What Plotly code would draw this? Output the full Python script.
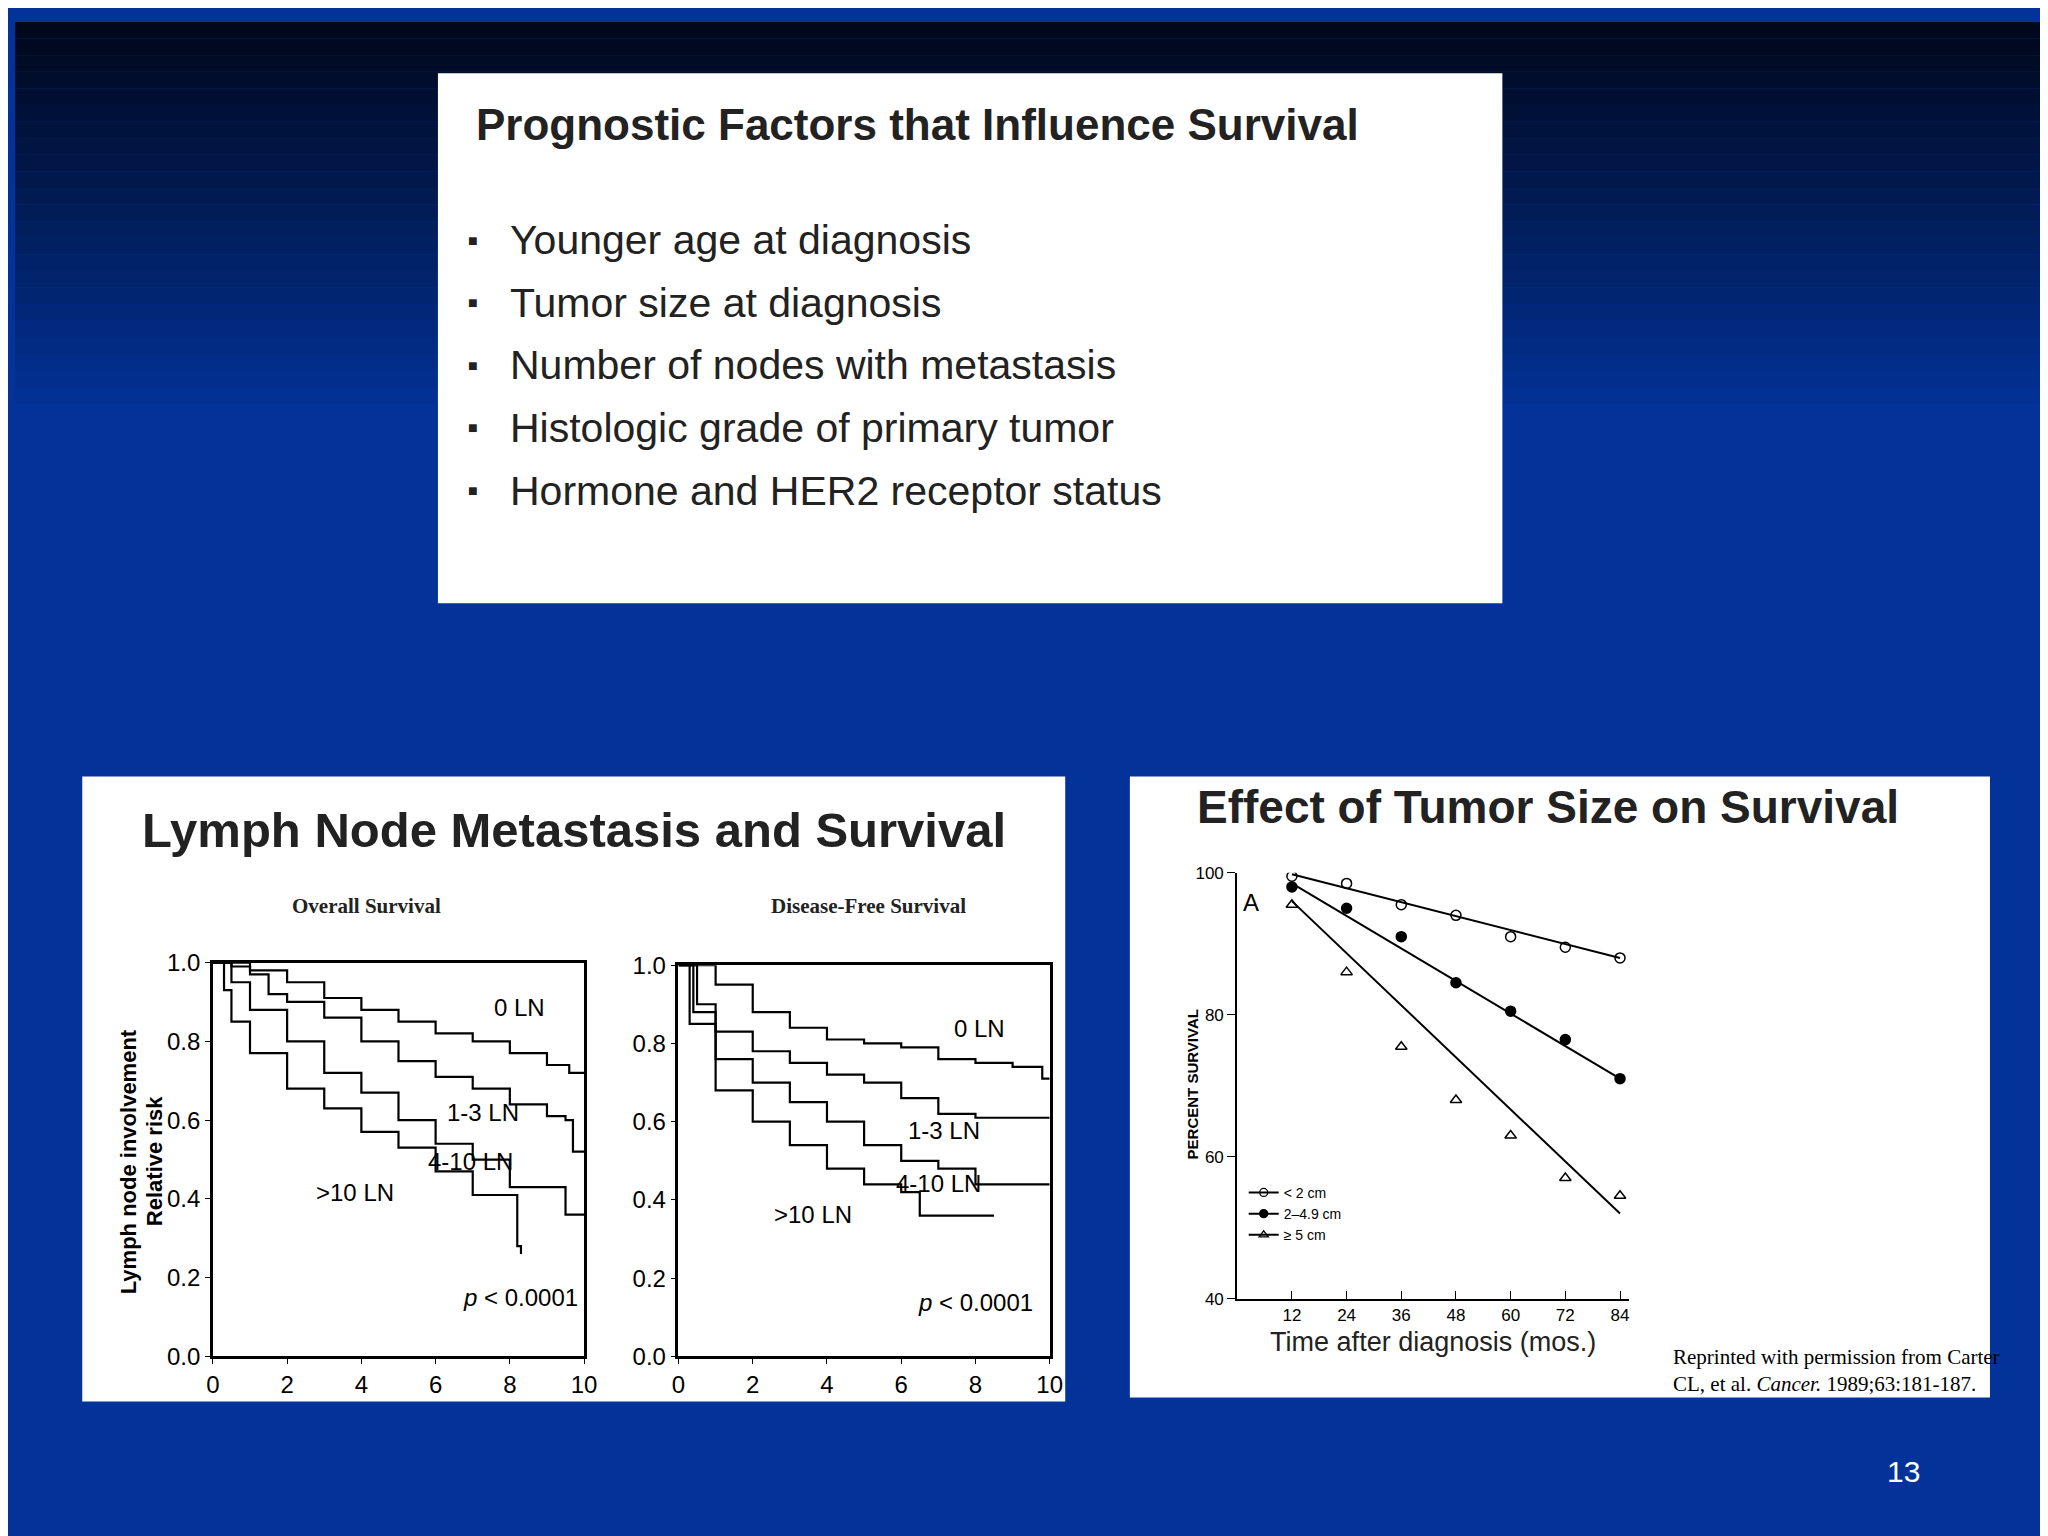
import plotly.graph_objects as go

# ---- data ----
bullets = ["Younger age at diagnosis", "Tumor size at diagnosis",
           "Number of nodes with metastasis", "Histologic grade of primary tumor",
           "Hormone and HER2 receptor status"]

# Kaplan-Meier curves (years, fraction)
os_0ln_x = [0, 0.5, 1, 2, 3, 4, 5, 6, 7, 8, 9, 9.6, 10]
os_0ln_y = [1, 0.99, 0.98, 0.95, 0.91, 0.88, 0.85, 0.82, 0.8, 0.77, 0.74, 0.72, 0.72]
os_13_x = [0, 1, 1.5, 2, 3, 4, 5, 6, 7, 8, 9, 9.5, 9.7, 10]
os_13_y = [1, 0.97, 0.92, 0.9, 0.86, 0.8, 0.75, 0.71, 0.68, 0.64, 0.61, 0.6, 0.52, 0.52]
os_410_x = [0, 0.5, 1, 2, 3, 4, 5, 6, 7, 8, 9, 9.5, 10]
os_410_y = [1, 0.95, 0.88, 0.8, 0.72, 0.67, 0.6, 0.54, 0.5, 0.43, 0.43, 0.36, 0.36]
os_10_x = [0, 0.3, 0.5, 1, 2, 3, 4, 5, 6, 7, 8, 8.2, 8.3]
os_10_y = [1, 0.93, 0.85, 0.77, 0.68, 0.63, 0.57, 0.53, 0.47, 0.41, 0.41, 0.28, 0.26]

dfs_0ln_x = [0, 1, 2, 3, 4, 5, 6, 7, 8, 9, 9.8, 10]
dfs_0ln_y = [1, 0.95, 0.88, 0.84, 0.81, 0.8, 0.79, 0.76, 0.75, 0.74, 0.71, 0.71]
dfs_13_x = [0, 0.5, 1, 2, 3, 4, 5, 6, 7, 8, 10]
dfs_13_y = [1, 0.9, 0.83, 0.78, 0.75, 0.72, 0.7, 0.66, 0.62, 0.61, 0.61]
dfs_410_x = [0, 0.4, 1, 2, 3, 4, 5, 6, 7, 8, 10]
dfs_410_y = [1, 0.88, 0.76, 0.7, 0.65, 0.6, 0.54, 0.5, 0.48, 0.44, 0.44]
dfs_10_x = [0, 0.3, 1, 2, 3, 4, 5, 6, 6.5, 8.5]
dfs_10_y = [1, 0.85, 0.68, 0.6, 0.54, 0.48, 0.44, 0.42, 0.36, 0.36]

# tumour size: percent survival by month
months = [12, 24, 36, 48, 60, 72, 84]
small_pts = [99.5, 98.5, 95.5, 94, 91, 89.5, 88]
mid_pts = [98, 95, 91, 84.5, 80.5, 76.5, 71]
large_pts = [95.5, 86, 75.5, 68, 63, 57, 54.5]
fit_x = [12, 84]
small_fit = [99.8, 88]
mid_fit = [98.5, 71]
large_fit = [96, 52]

W, H = 2048, 1536
def X(px): return px / 1568
def Y(py): return 1 - py / 1176

fig = go.Figure()

# background gradient
shapes = [dict(type="rect", xref="paper", yref="paper", x0=0, x1=1, y0=0, y1=1,
               fillcolor="#033399", line_width=0, layer="below")]
n = 24
for i in range(n):
    t = i / (n - 1)
    r, g, b = int(0 + 3 * t), int(8 + 43 * t), int(28 + 125 * t)
    shapes.append(dict(type="rect", xref="paper", yref="paper", x0=0, x1=1,
                       y0=1 - (i + 1) * 0.011, y1=1 - i * 0.011,
                       fillcolor=f"rgb({r},{g},{b})", line_width=0, layer="below"))
for x0, y0, x1, y1 in [(327, 40, 1150, 453), (52, 588, 812, 1075), (862, 588, 1527, 1072)]:
    shapes.append(dict(type="rect", xref="paper", yref="paper", x0=X(x0), x1=X(x1),
                       y0=Y(y1), y1=Y(y0), fillcolor="white", line_width=0, layer="below"))

blk = dict(color="black", width=2.2)
for xs, ys in [(os_0ln_x, os_0ln_y), (os_13_x, os_13_y), (os_410_x, os_410_y), (os_10_x, os_10_y)]:
    fig.add_trace(go.Scatter(x=xs, y=ys, mode="lines", line=blk, line_shape="hv",
                             xaxis="x", yaxis="y", showlegend=False))
for xs, ys in [(dfs_0ln_x, dfs_0ln_y), (dfs_13_x, dfs_13_y), (dfs_410_x, dfs_410_y), (dfs_10_x, dfs_10_y)]:
    fig.add_trace(go.Scatter(x=xs, y=ys, mode="lines", line=blk, line_shape="hv",
                             xaxis="x2", yaxis="y2", showlegend=False))

# tumour size chart
for fy in [small_fit, mid_fit, large_fit]:
    fig.add_trace(go.Scatter(x=fit_x, y=fy, mode="lines", line=dict(color="black", width=2),
                             xaxis="x3", yaxis="y3", showlegend=False))
styles = [("circle-open", small_pts, "< 2 cm"), ("circle", mid_pts, "2–4.9 cm"),
          ("triangle-up-open", large_pts, "≥ 5 cm")]
for sym, pts, name in styles:
    fig.add_trace(go.Scatter(x=months, y=pts, mode="markers",
                             marker=dict(symbol=sym, size=10, color="black", line=dict(width=1.5, color="black")),
                             xaxis="x3", yaxis="y3", showlegend=False))
    fig.add_trace(go.Scatter(x=[None], y=[None], mode="lines+markers", name=name,
                             marker=dict(symbol=sym, size=8, color="black", line=dict(width=1.3, color="black")),
                             line=dict(color="black", width=2), xaxis="x3", yaxis="y3"))

narrow = "Liberation Sans Narrow, Arial Narrow, Liberation Sans"
km_ax = dict(range=[0, 10], tickvals=[0, 2, 4, 6, 8, 10], showline=True, mirror=True,
             linecolor="black", linewidth=2.5, ticks="outside", ticklen=5, tickcolor="black",
             showgrid=False, zeroline=False, tickfont=dict(family=narrow, size=24, color="black"))
km_ay = dict(range=[0, 1], tickvals=[0, 0.2, 0.4, 0.6, 0.8, 1.0], tickformat=".1f",
             showline=True, mirror=True, linecolor="black", linewidth=2.5, ticks="outside",
             ticklen=5, tickcolor="black", showgrid=False, zeroline=False,
             tickfont=dict(family=narrow, size=24, color="black"))

fig.update_layout(
    width=W, height=H, margin=dict(l=0, r=0, t=0, b=0),
    paper_bgcolor="#033399", plot_bgcolor="rgba(0,0,0,0)", shapes=shapes,
    xaxis=dict(km_ax, domain=[X(153), X(440)], anchor="y"),
    yaxis=dict(km_ay, domain=[Y(1040), Y(733)], anchor="x"),
    xaxis2=dict(km_ax, domain=[X(513), X(800)], anchor="y2"),
    yaxis2=dict(km_ay, domain=[Y(1040), Y(735)], anchor="x2"),
    xaxis3=dict(domain=[X(945), X(1248)], range=[0, 86], anchor="y3", tickvals=months,
                showline=True, linecolor="black", linewidth=2, ticks="inside", ticklen=8,
                tickcolor="black", showgrid=False, zeroline=False,
                tickfont=dict(family=narrow, size=17, color="black"),
                title=dict(text="Time after diagnosis (mos.)", standoff=8,
                           font=dict(family=narrow, size=27, color="#222"))),
    yaxis3=dict(domain=[Y(995), Y(663)], range=[40, 100], anchor="x3", tickvals=[40, 60, 80, 100],
                showline=True, linecolor="black", linewidth=2, ticks="outside", ticklen=8,
                tickcolor="black", showgrid=False, zeroline=False,
                tickfont=dict(family=narrow, size=17, color="black")),
    legend=dict(x=X(950), y=Y(900), xanchor="left", yanchor="top", bgcolor="rgba(0,0,0,0)",
                font=dict(family="Liberation Sans", size=14, color="black"), tracegroupgap=0,
                itemwidth=30),
)

ann = []
def A(text, x, y, size, family="Liberation Sans", color="#222", xanchor="left", **kw):
    ann.append(dict(text=text, x=x, y=y, xref=kw.pop("xref", "paper"), yref=kw.pop("yref", "paper"),
                    xanchor=xanchor, yanchor=kw.pop("yanchor", "middle"), showarrow=False,
                    font=dict(family=family, size=size, color=color), **kw))

A("<b>Prognostic Factors that Influence Survival</b>", X(355), Y(80), 44, color="#222")
for i, b in enumerate(bullets):
    yy = Y(170 + i * 48.8)
    A("■", X(349), yy, 16, color="#222")
    A(b, X(381), yy, 41, color="#222")

A("<b>Lymph Node Metastasis and Survival</b>", X(432), Y(630), 49, family=narrow, xanchor="center")
A("<b>Overall Survival</b>", X(272), Y(689), 21, family="Liberation Serif", xanchor="center")
A("<b>Disease-Free Survival</b>", X(660), Y(689), 21, family="Liberation Serif", xanchor="center")
A("<b>Lymph node involvement</b>", X(88), Y(888), 22, color="black", xanchor="center", textangle=-90)
A("<b>Relative risk</b>", X(108), Y(888), 22, color="black", xanchor="center", textangle=-90)

for txt, x, y in [("0 LN", 8.26, 0.886), ("1-3 LN", 7.28, 0.62), ("4-10 LN", 6.94, 0.495),
                  (">10 LN", 3.83, 0.417), ("<i>p</i> < 0.0001", 8.3, 0.15)]:
    A(txt, x, y, 24, family=narrow, color="black", xanchor="center", xref="x", yref="y")
for txt, x, y in [("0 LN", 8.12, 0.839), ("1-3 LN", 7.14, 0.577), ("4-10 LN", 7.0, 0.443),
                  (">10 LN", 3.62, 0.364), ("<i>p</i> < 0.0001", 8.0, 0.138)]:
    A(txt, x, y, 24, family=narrow, color="black", xanchor="center", xref="x2", yref="y2")

A("<b>Effect of Tumor Size on Survival</b>", X(1185), Y(612), 46, family=narrow, xanchor="center")
A("A", X(956), Y(686), 24, color="black", xanchor="center")
A("<b>PERCENT SURVIVAL</b>", X(910), Y(828), 15, color="black", xanchor="center", textangle=-90)
A("Reprinted with permission from Carter<br>CL, et al. <i>Cancer.</i> 1989;63:181-187.",
  X(1280), Y(1051), 21, family="Liberation Serif", color="black", align="left")
A("13", X(1460), Y(1130), 30, color="white", xanchor="center")

fig.update_layout(annotations=ann)
fig.write_html("out.html")
